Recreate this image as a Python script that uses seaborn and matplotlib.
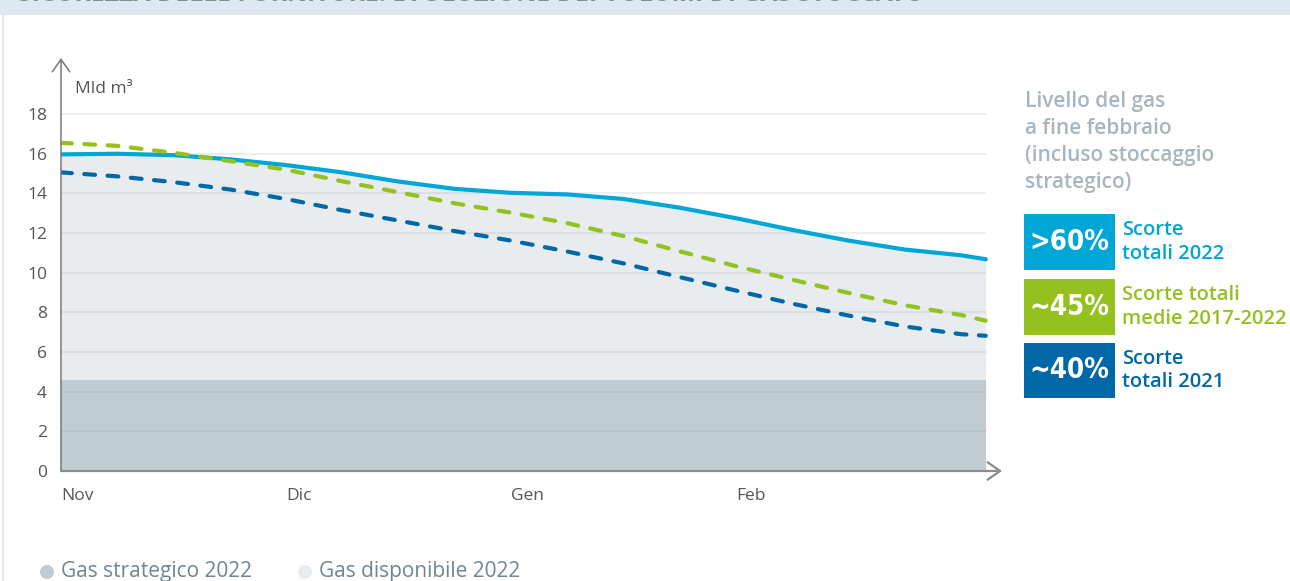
import matplotlib
matplotlib.use("Agg")
import numpy as np
import pandas as pd
import seaborn as sns
import matplotlib.pyplot as plt
from matplotlib.patches import Rectangle, Ellipse
from matplotlib import font_manager
from matplotlib.font_manager import FontProperties

# ---------------- data ----------------
mesi = [0.0, 0.25, 0.5, 0.75, 1.0, 1.25, 1.5, 1.75, 2.0, 2.25, 2.5, 2.75,
        3.0, 3.25, 3.5, 3.75, 4.0, 4.11]
scorte_2022 = [15.97, 16.00, 15.93, 15.72, 15.43, 15.06, 14.60, 14.23, 14.03,
               13.95, 13.72, 13.28, 12.75, 12.16, 11.62, 11.17, 10.88, 10.68]
media_2017_2022 = [16.55, 16.40, 16.05, 15.63, 15.20, 14.61, 14.06, 13.50, 13.03,
                   12.50, 11.85, 11.08, 10.33, 9.65, 8.98, 8.36, 7.87, 7.58]
scorte_2021 = [15.06, 14.86, 14.57, 14.20, 13.72, 13.15, 12.63, 12.10, 11.62,
               11.07, 10.47, 9.78, 9.10, 8.44, 7.84, 7.29, 6.90, 6.82]
gas_strategico_2022 = 4.6

month_labels = ["Nov", "Dic", "Gen", "Feb"]
month_pos = [0, 1, 2, 3]
y_ticks = [0, 2, 4, 6, 8, 10, 12, 14, 16, 18]

serie_names = ["Scorte totali 2022", "Scorte totali medie 2017-2022", "Scorte totali 2021"]
box_labels = [">60%", "~45%", "~40%"]
box_texts = ["Scorte\ntotali 2022", "Scorte totali\nmedie 2017-2022", "Scorte\ntotali 2021"]
legend_labels = ["Gas strategico 2022", "Gas disponibile 2022"]

# ---------------- style ----------------
C_2022 = "#00a6d6"
C_AVG = "#95c11f"
C_2021 = "#0068a6"
C_FILL = "#e8ecee"
C_STRAT = "#c0ccd4"

sns.set_theme(style="white")
plt.rcParams["font.family"] = ["Open Sans", "DejaVu Sans"]

W, H = 1290, 581
fig = plt.figure(figsize=(W / 100, H / 100), dpi=100)
fig.patch.set_facecolor("white")


def fx(px):
    return px / W


def fy(py):
    return 1 - py / H


# top band and card border
fig.patches.append(Rectangle((0, fy(15)), 1, 15 / H, transform=fig.transFigure,
                             color="#dfe8f0", lw=0, zorder=0))
fig.patches.append(Rectangle((fx(2), 0), 2 / W, fy(15), transform=fig.transFigure,
                             color="#e3e9ee", lw=0, zorder=0))
fig.text(fx(18), fy(1), "SICUREZZA DELLE FORNITURE: EVOLUZIONE DEI VOLUMI DI GAS STOCCATO",
         fontsize=17.8, fontweight="bold", color="#7d8e9c", va="baseline", ha="left")

ax_left, ax_right, ax_bottom, ax_top = 61, 988, 471, 58
ax = fig.add_axes([fx(ax_left), fy(ax_bottom), (ax_right - ax_left) / W,
                   (ax_bottom - ax_top) / H])
ax.set_facecolor("none")

xmax = 4.12
ymax = 20.83
ax.set_xlim(0, xmax)
ax.set_ylim(0, ymax)

# fills
ax.fill_between(mesi, 0, scorte_2022, color=C_FILL, lw=0, zorder=1)
ax.fill_between([mesi[0], mesi[-1]], 0, gas_strategico_2022, color=C_STRAT, lw=0, zorder=2)

# gridlines
ax.hlines(y_ticks[1:], 0, mesi[-1], color=(0.35, 0.45, 0.55, 0.13), lw=1.2, zorder=3)

# lines via seaborn
df = pd.DataFrame({
    "mese": mesi * 3,
    "valore": scorte_2022 + media_2017_2022 + scorte_2021,
    "serie": [serie_names[0]] * len(mesi) + [serie_names[1]] * len(mesi)
             + [serie_names[2]] * len(mesi),
})
sns.lineplot(data=df, x="mese", y="valore", hue="serie", style="serie",
             hue_order=serie_names, style_order=serie_names,
             palette={serie_names[0]: C_2022, serie_names[1]: C_AVG, serie_names[2]: C_2021},
             dashes={serie_names[0]: "", serie_names[1]: (2.6, 3.0), serie_names[2]: (2.6, 3.0)},
             linewidth=3.0, legend=False, ax=ax, zorder=5,
             dash_capstyle="round", solid_capstyle="round")

# axes cosmetics
for s in ax.spines.values():
    s.set_visible(False)
ax.set_xlabel("")
ax.set_ylabel("")
ax.set_yticks(y_ticks)
ax.set_yticklabels([str(v) for v in y_ticks])
ax.set_xticks(month_pos)
ax.set_xticklabels(month_labels, ha="left")
ax.tick_params(axis="both", length=0, labelsize=12.5, labelcolor="#555555")
ax.tick_params(axis="y", pad=10)
ax.tick_params(axis="x", pad=12)
ax.grid(False)

# axis arrows
ax.annotate("", xy=(0, 1.0), xytext=(0, 0), xycoords="axes fraction",
            arrowprops=dict(arrowstyle="->,head_length=0.5,head_width=0.35",
                            color="#7a7a7a", lw=1.1, mutation_scale=18,
                            shrinkA=0, shrinkB=0), zorder=6)
ax.annotate("", xy=((1002 - ax_left) / (ax_right - ax_left), 0), xytext=(0, 0),
            xycoords="axes fraction",
            arrowprops=dict(arrowstyle="->,head_length=0.5,head_width=0.35",
                            color="#8c8c8c", lw=1.6, mutation_scale=18,
                            shrinkA=0, shrinkB=0), zorder=6)

ax.text(0.062, 19.28, "Mld m³", fontsize=12.5, color="#555555", va="center", ha="left")

# right panel
fig.text(fx(1025), fy(91), "Livello del gas\na fine febbraio\n(incluso stoccaggio\nstrategico)",
         fontsize=15, color="#a8b5be", va="top", ha="left", linespacing=1.37,
         fontweight="semibold")

# condensed font for the percentages (if one is installed)
cond = None
for f in font_manager.fontManager.ttflist:
    fn = f.fname.lower()
    st = f.stretch
    is_cond = ("condensed" in fn or "narrow" in fn or
               (isinstance(st, str) and "condensed" in st) or
               (isinstance(st, (int, float)) and st < 500))
    if is_cond and "italic" not in fn and "oblique" not in fn:
        score = 2 if "bold" in fn and "semi" not in fn and "extra" not in fn else 1
        if cond is None or score > cond[0]:
            cond = (score, f.fname)
if cond is not None:
    pct_fp = FontProperties(fname=cond[1])
else:
    pct_fp = FontProperties(family="DejaVu Sans", weight="bold")

boxes = [(214, 270, C_2022), (279, 335, C_AVG), (343, 398, C_2021)]
renderer = fig.canvas.get_renderer()
for (y0, y1, col), lab, txt in zip(boxes, box_labels, box_texts):
    fig.patches.append(Rectangle((fx(1024), fy(y1)), 91 / W, (y1 - y0) / H,
                                 transform=fig.transFigure, color=col, lw=0))
    t = fig.text(fx(1069.5), fy((y0 + y1) / 2), lab, fontproperties=pct_fp,
                 color="white", ha="center", va="center")
    t.set_fontsize(30)
    bb = t.get_window_extent(renderer)
    scale = min(80 / bb.width, 44 / bb.height)
    t.set_fontsize(30 * scale)
    fig.text(fx(1122), fy((y0 + y1) / 2), txt, fontsize=14.5, color=col,
             ha="left", va="center", linespacing=1.25, fontweight="semibold")

# bottom legend
leg_items = [(47, C_STRAT, legend_labels[0]), (305, C_FILL, legend_labels[1])]
for xp, col, lab in leg_items:
    fig.patches.append(Ellipse((fx(xp), fy(572)), 14 / W, 14 / H,
                               transform=fig.transFigure, color=col, lw=0))
    fig.text(fx(xp + 14), fy(572), lab, fontsize=15, color="#6f8593", ha="left",
             va="center")

fig.savefig("out.png", dpi=100, facecolor="white")
